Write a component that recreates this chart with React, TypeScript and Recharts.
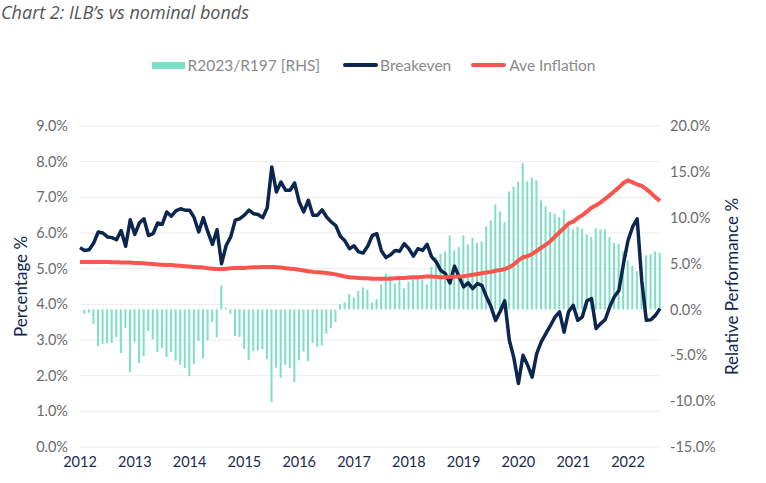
import React from 'react';
import { ComposedChart, Bar, Line, XAxis, YAxis, CartesianGrid } from 'recharts';

// month index 0 = Jan 2012, ticks on each January
const yearTicks = [0, 12, 24, 36, 48, 60, 72, 84, 96, 108, 120];
const yearLabels = ['2012', '2013', '2014', '2015', '2016', '2017', '2018', '2019', '2020', '2021', '2022'];
const leftTicks = [0, 1, 2, 3, 4, 5, 6, 7, 8, 9];
const rightTicks = [-15, -10, -5, 0, 5, 10, 15, 20];

// Breakeven (%), one reading per month boundary, Jan 2012 .. Aug 2022
const breakeven = [
  5.59, 5.51, 5.53, 5.72, 6.03, 6.0, 5.89, 5.87, 5.81, 6.07, 5.63, 6.37,
  5.96, 6.28, 6.4, 5.93, 5.98, 6.28, 6.24, 6.59, 6.47, 6.62, 6.68, 6.64,
  6.64, 6.43, 6.03, 6.43, 6.03, 5.68, 6.09, 5.14, 5.65, 5.89, 6.36, 6.4,
  6.5, 6.64, 6.54, 6.52, 6.43, 6.71, 7.85, 7.15, 7.43, 7.2, 7.2, 7.4,
  6.87, 6.59, 6.92, 6.5, 6.5, 6.65, 6.45, 6.31, 6.21, 5.91, 5.78, 5.56,
  5.64, 5.47, 5.44, 5.63, 5.93, 5.98, 5.5, 5.31, 5.39, 5.51, 5.49, 5.7,
  5.56, 5.35, 5.56, 5.51, 5.68, 5.33, 5.19, 4.95, 4.86, 4.6, 5.07, 4.77,
  4.49, 4.6, 4.44, 4.58, 4.53, 4.21, 3.93, 3.55, 3.8, 4.1, 3.0, 2.5,
  1.78, 2.57, 2.3, 1.96, 2.62, 2.95, 3.18, 3.4, 3.64, 3.79, 3.22, 3.8,
  3.97, 3.55, 3.65, 4.1, 4.16, 3.32, 3.46, 3.57, 3.93, 4.21, 4.39, 5.14,
  5.79, 6.17, 6.4, 4.67, 3.55, 3.57, 3.69, 3.88,
];

// Ave Inflation (%)
const aveInflation = [
  5.19, 5.19, 5.19, 5.19, 5.19, 5.19, 5.19, 5.18, 5.18, 5.17, 5.17, 5.17,
  5.16, 5.16, 5.15, 5.14, 5.13, 5.12, 5.11, 5.1, 5.1, 5.09, 5.08, 5.07,
  5.06, 5.05, 5.04, 5.03, 5.01, 5.0, 4.99, 4.99, 5.0, 5.01, 5.02, 5.02,
  5.02, 5.03, 5.04, 5.04, 5.05, 5.05, 5.05, 5.04, 5.03, 5.01, 5.0, 4.99,
  4.97, 4.95, 4.93, 4.91, 4.9, 4.89, 4.88, 4.86, 4.84, 4.81, 4.78, 4.76,
  4.75, 4.74, 4.73, 4.73, 4.72, 4.72, 4.72, 4.72, 4.72, 4.73, 4.74, 4.74,
  4.75, 4.76, 4.76, 4.77, 4.78, 4.78, 4.77, 4.76, 4.76, 4.77, 4.77, 4.78,
  4.79, 4.81, 4.83, 4.85, 4.87, 4.89, 4.91, 4.94, 4.96, 4.99, 5.04, 5.12,
  5.23, 5.32, 5.35, 5.41, 5.5, 5.59, 5.67, 5.77, 5.9, 6.02, 6.14, 6.27,
  6.32, 6.42, 6.5, 6.6, 6.71, 6.78, 6.86, 6.96, 7.06, 7.17, 7.28, 7.4,
  7.48, 7.42, 7.36, 7.32, 7.23, 7.12, 7.0, 6.9,
];

// R2023/R197 relative performance (%), month-end, Jan 2012 .. Jul 2022
const relPerf = [
  -0.47, -0.36, -1.56, -4.0, -3.75, -3.67, -3.67, -3.0, -4.76, -2.04, -6.84, -3.56,
  -5.85, -5.09, -2.36, -3.27, -4.65, -4.22, -5.2, -4.65, -5.56, -6.04, -6.4, -7.27,
  -5.93, -3.45, -5.31, -3.38, -1.38, -3.02, 2.62, 0.15, -0.47, -2.9, -3.0, -4.3,
  -5.5, -4.55, -4.47, -4.33, -5.42, -10.1, -6.36, -7.45, -6.04, -6.4, -7.93, -5.56,
  -4.58, -5.64, -3.67, -4.1, -3.93, -2.65, -2.04, -1.38, 0.55, 0.76, 1.64, 1.31,
  2.04, 2.4, 2.15, 0.76, 1.13, 2.73, 3.9, 3.7, 2.8, 3.24, 2.3, 3.0,
  3.7, 3.35, 3.24, 2.73, 4.62, 5.71, 6.07, 6.33, 8.07, 6.44, 6.8, 8.07,
  7.09, 7.82, 7.27, 7.42, 9.05, 9.7, 11.45, 10.7, 9.53, 12.87, 13.4, 13.9,
  15.96, 13.96, 14.36, 14.07, 11.89, 11.24, 10.62, 10.44, 10.07, 10.87, 9.05, 8.73,
  9.05, 8.8, 8.18, 7.89, 8.84, 8.73, 8.73, 7.89, 7.27, 7.16, 6.33, 5.35,
  4.76, 4.15, 3.6, 5.89, 6.0, 6.33, 6.15,
];

const NAVY = '#0c2650';
const RED = '#f9554e';
const MINT = '#7ddfc5';
const FONT = 'Lato, "Open Sans", sans-serif';

const rows = breakeven.map((b, m) => ({
  m,
  be: b,
  inf: aveInflation[m],
  rel: m >= 1 ? relPerf[m - 1] : null,
}));

const pct = (v: number) => `${v.toFixed(1)}%`;

const LegendBox = () => (
  <div
    style={{
      position: 'absolute',
      top: 56,
      left: 0,
      width: 766,
      boxSizing: 'border-box',
      paddingRight: 18,
      display: 'flex',
      justifyContent: 'center',
      alignItems: 'center',
      fontSize: 15.5,
      color: '#8a8a8a',
      fontFamily: FONT,
    }}
  >
    <span style={{ display: 'inline-block', width: 33, height: 7, background: MINT, marginRight: 2 }} />
    <span style={{ marginRight: 23 }}>R2023/R197 [RHS]</span>
    <span style={{ display: 'inline-block', width: 35, height: 4, borderRadius: 2, background: NAVY, marginRight: 2 }} />
    <span style={{ marginRight: 20 }}>Breakeven</span>
    <span style={{ display: 'inline-block', width: 35, height: 4, borderRadius: 2, background: RED, marginRight: 3 }} />
    <span>Ave Inflation</span>
  </div>
);

export default function App() {
  return (
    <div style={{ position: 'absolute', left: 0, top: 0, width: 766, height: 483, background: '#fff', fontFamily: FONT }}>
      <div
        style={{
          position: 'absolute',
          left: 1,
          top: 0,
          fontSize: 18,
          lineHeight: '24px',
          fontStyle: 'italic',
          fontFamily: '"Open Sans", sans-serif',
          color: '#555',
          whiteSpace: 'nowrap',
        }}
      >
        Chart 2: ILB’s vs nominal bonds
      </div>
      <LegendBox />
      <ComposedChart
        width={766}
        height={483}
        data={rows}
        margin={{ top: 126, right: 0, bottom: 6, left: 0 }}
      >
        <CartesianGrid yAxisId="left" vertical={false} stroke="#ebebeb" />
        <XAxis
          dataKey="m"
          type="number"
          domain={[0, 127]}
          ticks={yearTicks}
          tickFormatter={(v: number) => yearLabels[yearTicks.indexOf(v)]}
          axisLine={false}
          tickLine={false}
          tickSize={0}
          tickMargin={10}
          height={30}
          tick={{ fill: '#1c2a4c', fontSize: 14.5 }}
        />
        <YAxis
          yAxisId="left"
          domain={[0, 9]}
          ticks={leftTicks}
          tickFormatter={pct}
          axisLine={false}
          tickLine={false}
          tickSize={0}
          tickMargin={12}
          width={80}
          tick={{ fill: '#6b6b6b', fontSize: 14.5 }}
          label={{ value: 'Percentage %', angle: -90, position: 'center', dx: -19, fill: NAVY, fontSize: 17 }}
        />
        <YAxis
          yAxisId="right"
          orientation="right"
          domain={[-15, 20]}
          ticks={rightTicks}
          tickFormatter={pct}
          axisLine={false}
          tickLine={false}
          tickSize={0}
          tickMargin={10}
          width={106}
          tick={{ fill: '#6b6b6b', fontSize: 14.5 }}
          label={{ value: 'Relative Performance %', angle: -90, position: 'center', dx: 19, fill: NAVY, fontSize: 17 }}
        />
        <Bar yAxisId="right" dataKey="rel" fill={MINT} barSize={2} isAnimationActive={false} />
        <Line
          yAxisId="left"
          dataKey="be"
          stroke={NAVY}
          strokeWidth={3.5}
          strokeLinejoin="round"
          dot={false}
          type="linear"
          isAnimationActive={false}
        />
        <Line
          yAxisId="left"
          dataKey="inf"
          stroke={RED}
          strokeWidth={4}
          strokeLinejoin="round"
          dot={false}
          type="linear"
          isAnimationActive={false}
        />
      </ComposedChart>
    </div>
  );
}
